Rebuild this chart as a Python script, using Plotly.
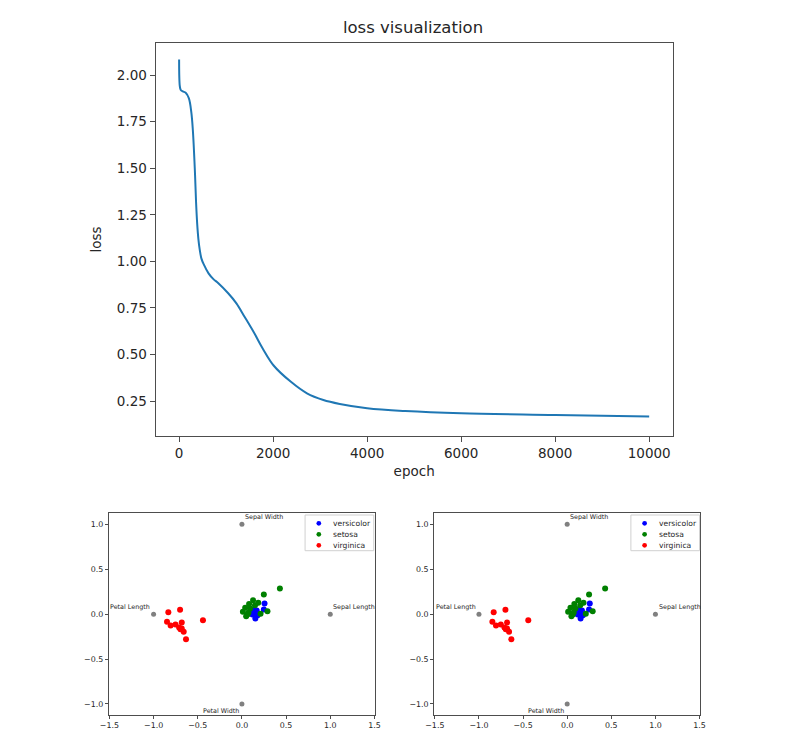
import plotly.graph_objects as go

# ---------------- data ----------------
epoch = [0, 15, 35, 80, 140, 208, 260, 292, 333, 360, 385, 410, 440, 475, 522, 626, 730, 835,
         1044, 1219, 1392, 1601, 1775, 2015, 2372, 2720, 3069, 3418, 4000, 4812, 6000, 8000, 10000]
loss = [2.084, 1.94, 1.92, 1.912, 1.905, 1.875, 1.80, 1.705, 1.50, 1.32, 1.20, 1.12, 1.06, 1.015,
        0.985, 0.936, 0.905, 0.883, 0.829, 0.775, 0.703, 0.614, 0.534, 0.44, 0.355, 0.292, 0.256,
        0.235, 0.212, 0.197, 0.185, 0.176, 0.167]

x_ticks_top = [0, 2000, 4000, 6000, 8000, 10000]
y_ticks_top = [0.25, 0.5, 0.75, 1.0, 1.25, 1.5, 1.75, 2.0]

anchor_names = ["Sepal Length", "Sepal Width", "Petal Length", "Petal Width"]
anchor_x = [1.0, 0.0, -1.0, -0.0001]
anchor_y = [0.0, 1.0, 0.0, -1.0]

versicolor_x = [0.256, 0.248, 0.119, 0.167, 0.141, 0.152, 0.119, 0.178, 0.111]
versicolor_y = [0.119, 0.052, 0.052, 0.041, 0.007, -0.048, -0.004, -0.011, 0.026]
setosa_x = [0.43, 0.248, 0.126, 0.185, 0.081, 0.148, 0.037, 0.011, 0.048, 0.074, 0.211, 0.289, 0.093, 0.063]
setosa_y = [0.286, 0.219, 0.156, 0.126, 0.112, 0.100, 0.071, 0.026, -0.022, 0.019, 0.004, 0.033, 0.063, -0.004]
virginica_x = [-0.833, -0.70, -0.848, -0.807, -0.752, -0.711, -0.681, -0.681, -0.659, -0.633, -0.441, -0.696]
virginica_y = [0.022, 0.048, -0.086, -0.126, -0.115, -0.149, -0.093, -0.160, -0.197, -0.279, -0.067, -0.167]

class_names = ["versicolor", "setosa", "virginica"]
class_colors = ["#0000ff", "#008000", "#ff0000"]
class_x = [versicolor_x, setosa_x, virginica_x]
class_y = [versicolor_y, setosa_y, virginica_y]

bottom_ticks = [-1.5, -1.0, -0.5, 0.0, 0.5, 1.0, 1.5]
bottom_yticks = [-1.0, -0.5, 0.0, 0.5, 1.0]

W, H = 804, 746
FONT = "DejaVu Sans"
TXT = "#262626"
AX = "#4d4d4d"

fig = go.Figure()

# ---------------- top: loss curve ----------------
fig.add_trace(go.Scatter(x=epoch, y=loss, mode="lines",
                         line=dict(color="#1f77b4", width=2, shape="spline", smoothing=1.0),
                         xaxis="x", yaxis="y", showlegend=False, hoverinfo="skip"))

# ---------------- bottom: two radviz-like plots ----------------
panels = [("x2", "y2", 301.7), ("x3", "y3", 633.7)]   # legend box left edge (px)
shapes = []
for xa, ya, leg_left in panels:
    fig.add_trace(go.Scatter(x=anchor_x, y=anchor_y, mode="markers",
                             marker=dict(color="gray", size=5),
                             xaxis=xa, yaxis=ya, showlegend=False, hoverinfo="skip"))
    for name, cx, cy, col in zip(class_names, class_x, class_y, class_colors):
        fig.add_trace(go.Scatter(x=cx, y=cy, mode="markers", name=name,
                                 marker=dict(color=col, size=6, line=dict(width=0)),
                                 xaxis=xa, yaxis=ya, showlegend=False))
    for nm, ax_, ay_ in zip(anchor_names, anchor_x, anchor_y):
        if ax_ < 0 and ay_ < 0:
            xx, yy, xan, yan = ax_ - 0.025, ay_ - 0.025, "right", "top"
        elif ax_ < 0 <= ay_:
            xx, yy, xan, yan = ax_ - 0.025, ay_ + 0.025, "right", "bottom"
        elif ay_ < 0 <= ax_:
            xx, yy, xan, yan = ax_ + 0.025, ay_ - 0.025, "left", "top"
        else:
            xx, yy, xan, yan = ax_ + 0.025, ay_ + 0.025, "left", "bottom"
        fig.add_annotation(x=xx, y=yy, xref=xa, yref=ya, text=nm, showarrow=False,
                           xanchor=xan, yanchor=yan, font=dict(family=FONT, size=6.4, color=TXT),
                           borderpad=0)
    # hand-made compact legend (matplotlib style)
    box_t, box_b, box_w = 515.0, 550.7, 70.0
    shapes.append(dict(type="rect", xref="paper", yref="paper",
                       x0=leg_left / W, x1=(leg_left + box_w) / W,
                       y0=1 - box_b / H, y1=1 - box_t / H,
                       line=dict(color="#d0d0d0", width=1), fillcolor="rgba(255,255,255,0.8)", layer="above"))
    for i, (name, col) in enumerate(zip(class_names, class_colors)):
        cy_px = 523.3 + 11.0 * i
        cx_px = leg_left + 14.0
        r = 2.4
        shapes.append(dict(type="circle", xref="paper", yref="paper",
                           x0=(cx_px - r) / W, x1=(cx_px + r) / W,
                           y0=1 - (cy_px + r) / H, y1=1 - (cy_px - r) / H,
                           fillcolor=col, line=dict(width=0), layer="above"))
        fig.add_annotation(x=(leg_left + 27.5) / W, y=1 - cy_px / H, xref="paper", yref="paper",
                           text=name, showarrow=False, xanchor="left", yanchor="middle",
                           font=dict(family=FONT, size=7.6, color=TXT), borderpad=0)

common_top = dict(showline=True, mirror=True, linecolor=AX, linewidth=1, showgrid=False,
                  zeroline=False, ticks="outside", ticklen=5, tickwidth=1, tickcolor=AX,
                  tickfont=dict(family=FONT, size=13.5, color=TXT))
common_bot = dict(showline=True, mirror=True, linecolor=AX, linewidth=1, showgrid=False,
                  zeroline=False, ticks="outside", ticklen=3, tickwidth=1, tickcolor=AX,
                  tickfont=dict(family=FONT, size=7.9, color=TXT), tickformat=".1f")

top_l, top_r, top_t, top_b = 149.4, 676.3, 43, 436
bl_l, bl_r = 101.7, 373.0
br_l, br_r = 433.3, 704.3
bt, bb = 513.3, 715.0


def dx(a, b):
    return [a / W, b / W]


def dy(t, b):
    return [1 - b / H, 1 - t / H]


fig.update_layout(
    width=W, height=H, margin=dict(l=0, r=0, t=0, b=0),
    paper_bgcolor="white", plot_bgcolor="white",
    font=dict(family=FONT, color=TXT),
    showlegend=False,
    shapes=shapes,
    xaxis=dict(domain=dx(top_l, top_r), range=[-500, 10500], tickvals=x_ticks_top, tickformat="d",
               anchor="y", title=dict(text="epoch", font=dict(family=FONT, size=13.5, color=TXT), standoff=6),
               **common_top),
    yaxis=dict(domain=dy(top_t, top_b), range=[0.063, 2.172], tickvals=y_ticks_top, tickformat=".2f",
               anchor="x", title=dict(text="loss", font=dict(family=FONT, size=13.5, color=TXT), standoff=12),
               **common_top),
    xaxis2=dict(domain=dx(bl_l, bl_r), range=[-1.507, 1.507], tickvals=bottom_ticks, anchor="y2", **common_bot),
    yaxis2=dict(domain=dy(bt, bb), range=[-1.123, 1.123], tickvals=bottom_yticks, anchor="x2", **common_bot),
    xaxis3=dict(domain=dx(br_l, br_r), range=[-1.507, 1.507], tickvals=bottom_ticks, anchor="y3", **common_bot),
    yaxis3=dict(domain=dy(bt, bb), range=[-1.123, 1.123], tickvals=bottom_yticks, anchor="x3", **common_bot),
    title=dict(text="loss visualization", x=413 / W, xanchor="center", y=1 - 27 / H, yanchor="middle",
               font=dict(family=FONT, size=16.5, color=TXT)),
)

fig.write_html("out.html")
